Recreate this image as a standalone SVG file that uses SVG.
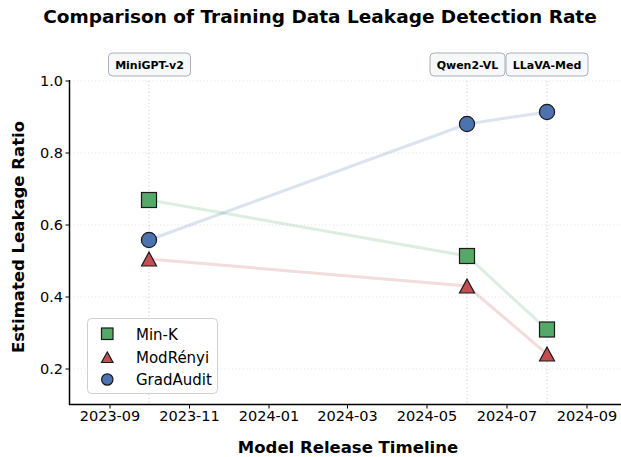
<svg xmlns="http://www.w3.org/2000/svg" width="621" height="457" viewBox="0 0 621 457">
<style>
text{font-family:"DejaVu Sans","Liberation Sans",sans-serif;fill:#000}
.title{font-size:18.5px;font-weight:bold}
.lab{font-size:16.5px;font-weight:bold}
.tick{font-size:14.5px}
.leg{font-size:15px}
.ann{font-size:11px;font-weight:bold}
.grid{stroke:#dcdcdc;stroke-width:0.8;stroke-dasharray:1.2,2.4;fill:none}
.vline{stroke:#c8c8c8;stroke-width:0.9;stroke-dasharray:1.2,2.4;fill:none}
.box{fill:#f6f8fa;stroke:#a9b0b8;stroke-width:1}
.mk{stroke:#1a1a1a;stroke-width:1.2}
.g{fill:#55a868}.r{fill:#c44e52}.b{fill:#4c72b0}
.ser{fill:none;stroke-width:3;stroke-opacity:0.2;stroke-linecap:round}
</style>
<rect width="621" height="457" fill="#fff"/>
<text class="title" x="320" y="23" text-anchor="middle">Comparison of Training Data Leakage Detection Rate</text>
<g id="grid">
<line class="grid" x1="70" y1="81" x2="621" y2="81"/>
<line class="grid" x1="70" y1="153" x2="621" y2="153"/>
<line class="grid" x1="70" y1="225" x2="621" y2="225"/>
<line class="grid" x1="70" y1="297" x2="621" y2="297"/>
<line class="grid" x1="70" y1="369" x2="621" y2="369"/>
<line class="vline" x1="149" y1="81" x2="149" y2="404"/>
<line class="vline" x1="467" y1="81" x2="467" y2="404"/>
<line class="vline" x1="547" y1="81" x2="547" y2="404"/>
</g>
<g id="axes" stroke="#000" stroke-width="1.5">
<line x1="69.5" y1="80" x2="69.5" y2="405"/>
<line x1="69" y1="404.5" x2="621" y2="404.5"/>
<g stroke-width="1">
<line x1="65.5" y1="81" x2="69" y2="81"/>
<line x1="65.5" y1="153" x2="69" y2="153"/>
<line x1="65.5" y1="225" x2="69" y2="225"/>
<line x1="65.5" y1="297" x2="69" y2="297"/>
<line x1="65.5" y1="369" x2="69" y2="369"/>
<line x1="110" y1="405" x2="110" y2="408.5"/>
<line x1="189.5" y1="405" x2="189.5" y2="408.5"/>
<line x1="269" y1="405" x2="269" y2="408.5"/>
<line x1="347.5" y1="405" x2="347.5" y2="408.5"/>
<line x1="427" y1="405" x2="427" y2="408.5"/>
<line x1="507" y1="405" x2="507" y2="408.5"/>
<line x1="587" y1="405" x2="587" y2="408.5"/>
</g>
</g>
<g id="ticklabels" class="tick">
<text x="63" y="86" text-anchor="end">1.0</text>
<text x="63" y="158" text-anchor="end">0.8</text>
<text x="63" y="230" text-anchor="end">0.6</text>
<text x="63" y="302" text-anchor="end">0.4</text>
<text x="63" y="374" text-anchor="end">0.2</text>
<text x="110" y="421" text-anchor="middle">2023-09</text>
<text x="189.5" y="421" text-anchor="middle">2023-11</text>
<text x="269" y="421" text-anchor="middle">2024-01</text>
<text x="347.5" y="421" text-anchor="middle">2024-03</text>
<text x="427" y="421" text-anchor="middle">2024-05</text>
<text x="507" y="421" text-anchor="middle">2024-07</text>
<text x="587" y="421" text-anchor="middle">2024-09</text>
</g>
<text class="lab" x="348" y="453" text-anchor="middle">Model Release Timeline</text>
<text class="lab" transform="translate(24,237) rotate(-90)" text-anchor="middle">Estimated Leakage Ratio</text>
<g id="connectors">
<polyline class="ser" stroke="#55a868" points="149,200 467,256 547,329.5"/>
<polyline class="ser" stroke="#c44e52" points="149,259 467,286 547,354"/>
<polyline class="ser" stroke="#4c72b0" points="149,240 467,124 547,112"/>
</g>
<g id="minik">
<rect class="mk g" x="141.5" y="192.5" width="15" height="15"/>
<rect class="mk g" x="459.5" y="248.5" width="15" height="15"/>
<rect class="mk g" x="539.5" y="322" width="15" height="15"/>
</g>
<g id="modrenyi">
<polygon class="mk r" points="149,252 141.5,266 156.5,266"/>
<polygon class="mk r" points="467,279 459.5,293 474.5,293"/>
<polygon class="mk r" points="547,347 539.5,361 554.5,361"/>
</g>
<g id="gradaudit">
<circle class="mk b" cx="149" cy="240" r="7.6"/>
<circle class="mk b" cx="467" cy="124" r="7.6"/>
<circle class="mk b" cx="547" cy="112" r="7.6"/>
</g>
<g id="ann-minigpt">
<rect class="box" x="108.5" y="53" width="82" height="23" rx="4"/>
<text class="ann" x="149.5" y="68.5" text-anchor="middle">MiniGPT-v2</text>
</g>
<g id="ann-qwen">
<rect class="box" x="430" y="53" width="75" height="23" rx="4"/>
<text class="ann" x="467.5" y="68.5" text-anchor="middle">Qwen2-VL</text>
</g>
<g id="ann-llava">
<rect class="box" x="506" y="53" width="82" height="23" rx="4"/>
<text class="ann" x="547" y="68.5" text-anchor="middle">LLaVA-Med</text>
</g>
<g id="legend">
<rect x="87.5" y="318.5" width="130" height="75" rx="4" fill="#fff" fill-opacity="0.8" stroke="#d0d0d0"/>
<rect class="mk g" x="101.5" y="328" width="11.5" height="11.5"/>
<polygon class="mk r" points="107.3,352 101.5,362.5 113,362.5"/>
<circle class="mk b" cx="107.3" cy="379.5" r="5.7"/>
<text class="leg" x="136" y="339.5">Min-K</text>
<text class="leg" x="136" y="362.5">ModRényi</text>
<text class="leg" x="136" y="385">GradAudit</text>
</g>
</svg>
